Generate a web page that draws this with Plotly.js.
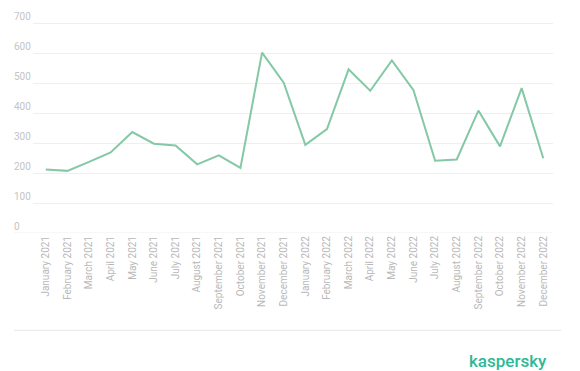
<!DOCTYPE html>
<html>
<head>
<meta charset="utf-8">
<script src="https://cdn.plot.ly/plotly-3.0.1.min.js"></script>
<style>html,body{margin:0;padding:0;background:#fff;}#chart{width:580px;height:371px;}</style>
</head>
<body>
<div id="chart"></div>
<script>
var months = ["January 2021","February 2021","March 2021","April 2021","May 2021","June 2021","July 2021","August 2021","September 2021","October 2021","November 2021","December 2021","January 2022","February 2022","March 2022","April 2022","May 2022","June 2022","July 2022","August 2022","September 2022","October 2022","November 2022","December 2022"];
var values = [213, 208, 238, 270, 338, 299, 293, 230, 260, 218, 604, 503, 295, 348, 548, 476, 578, 478, 242, 246, 410, 290, 485, 250];
var yTicks = [0, 100, 200, 300, 400, 500, 600, 700];

var trace = {
  x: months,
  y: values,
  type: 'scatter',
  mode: 'lines',
  line: {color: '#84c8a5', width: 2},
  hoverinfo: 'none'
};

var layout = {
  width: 580,
  height: 371,
  margin: {l: 10, r: 27, t: 6, b: 137.5, pad: 0},
  paper_bgcolor: '#ffffff',
  plot_bgcolor: '#ffffff',
  showlegend: false,
  font: {family: 'Roboto, Arial, sans-serif', color: '#bdbdbd'},
  xaxis: {
    type: 'category',
    domain: [0.04236, 1],
    range: [-0.59, 23.45],
    showgrid: false,
    zeroline: false,
    showline: false,
    ticks: '',
    tickangle: -90,
    tickfont: {size: 10, color: '#b8b8b8', family: 'Roboto, Arial, sans-serif'},
    fixedrange: true
  },
  yaxis: {
    range: [0, 760],
    anchor: 'free',
    position: 0,
    tickvals: yTicks,
    ticktext: yTicks.map(String),
    ticklabelposition: 'inside top',
    tickfont: {size: 10, color: '#c4c4c4', family: 'Roboto, Arial, sans-serif'},
    showgrid: true,
    gridcolor: '#efefef',
    gridwidth: 1,
    zeroline: false,
    showline: false,
    ticks: '',
    fixedrange: true
  },
  shapes: [
    {type: 'line', xref: 'paper', yref: 'y', x0: 0.0074, x1: 1, y0: 0, y1: 0, line: {color: '#eeeeee', width: 1}},
    {type: 'line', xref: 'paper', yref: 'paper', x0: 0.0074, x1: 1.0147, y0: -0.4286, y1: -0.4286, line: {color: '#e6e6e6', width: 1}}
  ],
  annotations: [
    {text: 'kaspersky', xref: 'paper', yref: 'paper', x: 0.9926, y: -0.5626, xanchor: 'right', yanchor: 'middle', showarrow: false,
     font: {family: 'Roboto, Arial, sans-serif', size: 17, color: '#2fb896', weight: 500}}
  ]
};

Plotly.newPlot('chart', [trace], layout, {displayModeBar: false, staticPlot: true});
</script>
</body>
</html>
